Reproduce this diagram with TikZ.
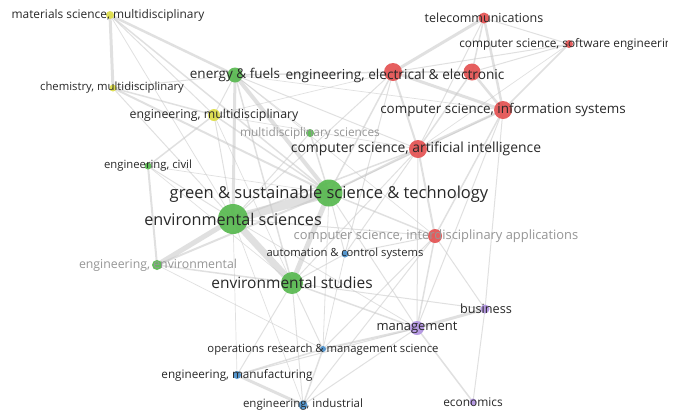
\documentclass[tikz,border=0pt]{standalone}
\usepackage{fontspec}
\setmainfont{Open Sans}
\newcommand\fsz[1]{\fontsize{#1}{#1}\selectfont}
\definecolor{cgreen}{RGB}{88,185,80}
\definecolor{cred}{RGB}{228,82,82}
\definecolor{cyellow}{RGB}{222,222,72}
\definecolor{cblue}{RGB}{75,145,205}
\definecolor{cpurple}{RGB}{178,148,226}
\definecolor{cedge}{RGB}{200,200,200}
\definecolor{ctext}{RGB}{40,40,40}
\definecolor{cfaint}{RGB}{150,150,150}
\tikzset{
  dot/.style={circle, inner sep=0pt, draw=none, fill opacity=0.92},
  lab/.style={inner sep=0pt, text=ctext, anchor=center},
  faintlab/.style={inner sep=0pt, text=cfaint, anchor=center},
  lnk/.style={draw=cedge, draw opacity=0.55, line cap=round},
}
\newcommand\E[3]{\draw[lnk, line width=#3pt] (#1) -- (#2);}
\begin{document}
\begin{tikzpicture}[x=1pt,y=-1pt]
\useasboundingbox (0,0) rectangle (683,416);
\fill[white] (0,0) rectangle (683,416);
\begin{scope}
\clip (0,0) rectangle (667,416);
% coordinates of nodes
\coordinate (mat) at (110,15);
\coordinate (chem) at (113,88);
\coordinate (engm) at (214,115);
\coordinate (ener) at (235,75);
\coordinate (msci) at (310,133);
\coordinate (civ) at (148,166);
\coordinate (grn) at (329,193);
\coordinate (envs) at (233,219);
\coordinate (enve) at (157,265);
\coordinate (envst) at (292,283);
\coordinate (auto) at (345,254);
\coordinate (inter) at (435,236);
\coordinate (ai) at (418,149);
\coordinate (info) at (503,110);
\coordinate (elec) at (393,72);
\coordinate (hw) at (472,72);
\coordinate (tel) at (484,18);
\coordinate (soft) at (569,44);
\coordinate (bus) at (485,309);
\coordinate (man) at (417,328);
\coordinate (ops) at (323,349);
\coordinate (manu) at (237,375);
\coordinate (ind) at (303,405);
\coordinate (eco) at (473,402);
% links
\E{mat}{chem}{3}
\E{mat}{ener}{2.5}
\E{mat}{engm}{1}
\E{mat}{grn}{1.5}
\E{mat}{envs}{0.8}
\E{chem}{engm}{1.5}
\E{chem}{ener}{1}
\E{chem}{grn}{2}
\E{chem}{envs}{1}
\E{engm}{ener}{1}
\E{engm}{grn}{1.5}
\E{engm}{envs}{1}
\E{engm}{civ}{1.5}
\E{engm}{ai}{0.7}
\E{engm}{envst}{0.7}
\E{engm}{elec}{0.7}
\E{ener}{grn}{4}
\E{ener}{envs}{3}
\E{ener}{elec}{1.5}
\E{ener}{envst}{1.5}
\E{ener}{ai}{1}
\E{ener}{info}{0.7}
\E{ener}{inter}{0.7}
\E{ener}{msci}{0.8}
\E{civ}{enve}{2}
\E{civ}{envs}{1}
\E{civ}{grn}{0.7}
\E{civ}{envst}{0.7}
\E{grn}{envs}{9}
\E{envs}{envst}{7}
\E{grn}{envst}{5}
\E{envs}{enve}{5}
\E{grn}{enve}{2}
\E{enve}{envst}{1.5}
\E{grn}{ai}{2}
\E{grn}{inter}{1.5}
\E{grn}{elec}{1.5}
\E{grn}{auto}{1}
\E{grn}{msci}{1.5}
\E{grn}{info}{1}
\E{grn}{man}{1}
\E{envs}{msci}{1}
\E{envs}{ai}{1.5}
\E{envs}{elec}{1}
\E{envs}{inter}{1}
\E{envs}{man}{0.8}
\E{ai}{info}{2.5}
\E{ai}{elec}{2}
\E{ai}{hw}{1.5}
\E{ai}{inter}{2}
\E{ai}{tel}{1}
\E{ai}{soft}{0.7}
\E{ai}{auto}{1}
\E{ai}{man}{1}
\E{ai}{envst}{1}
\E{elec}{tel}{3}
\E{elec}{info}{3}
\E{elec}{hw}{2.5}
\E{hw}{info}{2.5}
\E{tel}{info}{2.5}
\E{tel}{hw}{1.5}
\E{soft}{info}{1.5}
\E{soft}{elec}{1}
\E{soft}{tel}{1}
\E{soft}{hw}{1}
\E{info}{inter}{1.5}
\E{info}{man}{1}
\E{info}{bus}{1}
\E{inter}{man}{1.5}
\E{inter}{bus}{1}
\E{inter}{auto}{1}
\E{inter}{ops}{1}
\E{inter}{ind}{1}
\E{auto}{elec}{1}
\E{auto}{envst}{1}
\E{auto}{ops}{0.8}
\E{envst}{man}{1.5}
\E{envst}{bus}{1}
\E{envst}{ops}{1}
\E{envst}{manu}{1}
\E{envst}{ind}{1}
\E{man}{bus}{3}
\E{man}{eco}{1.5}
\E{bus}{eco}{1}
\E{man}{ops}{2}
\E{man}{manu}{1}
\E{man}{ind}{1}
\E{ops}{manu}{1.5}
\E{ops}{ind}{1.5}
\E{manu}{ind}{3}
\E{enve}{ops}{0.7}
\E{envs}{ind}{0.7}
\E{envs}{manu}{0.7}
\E{grn}{ops}{0.8}
% circles
\node[dot, fill=cyellow, minimum size=8pt] (n1) at (mat) {};
\node[dot, fill=cyellow, minimum size=7pt] (n2) at (chem) {};
\node[dot, fill=cyellow, minimum size=12pt] (n3) at (engm) {};
\node[dot, fill=cgreen, minimum size=15pt] (n4) at (ener) {};
\node[dot, fill=cgreen, minimum size=8pt] (n5) at (msci) {};
\node[dot, fill=cgreen, minimum size=7pt] (n6) at (civ) {};
\node[dot, fill=cgreen, minimum size=27pt] (n7) at (grn) {};
\node[dot, fill=cgreen, minimum size=30pt] (n8) at (envs) {};
\node[dot, fill=cgreen, minimum size=10pt] (n9) at (enve) {};
\node[dot, fill=cgreen, minimum size=22pt] (n10) at (envst) {};
\node[dot, fill=cblue, minimum size=7pt] (n11) at (auto) {};
\node[dot, fill=cred, minimum size=14pt] (n12) at (inter) {};
\node[dot, fill=cred, minimum size=18pt] (n13) at (ai) {};
\node[dot, fill=cred, minimum size=18pt] (n14) at (info) {};
\node[dot, fill=cred, minimum size=18pt] (n15) at (elec) {};
\node[dot, fill=cred, minimum size=17pt] (n16) at (hw) {};
\node[dot, fill=cred, minimum size=11pt] (n17) at (tel) {};
\node[dot, fill=cred, minimum size=8pt] (n18) at (soft) {};
\node[dot, fill=cpurple, minimum size=9pt] (n19) at (bus) {};
\node[dot, fill=cpurple, minimum size=14pt] (n20) at (man) {};
\node[dot, fill=cblue, minimum size=6pt] (n21) at (ops) {};
\node[dot, fill=cblue, minimum size=8pt] (n22) at (manu) {};
\node[dot, fill=cblue, minimum size=9pt] (n23) at (ind) {};
\node[dot, fill=cpurple, minimum size=7pt] (n24) at (eco) {};
% labels
\node[lab, font=\fsz{11.9}] (l1) at (108,15) {materials science, multidisciplinary};
\node[lab, font=\fsz{11.3}] (l2) at (112,88) {chemistry, multidisciplinary};
\node[lab, font=\fsz{12.3}] (l3) at (214,115) {engineering, multidisciplinary};
\node[lab, font=\fsz{13.5}] (l4) at (235,75) {energy \& fuels};
\node[faintlab, font=\fsz{11.8}] (l5) at (310,133) {multidisciplinary sciences};
\node[lab, font=\fsz{11.3}] (l6) at (148,166) {engineering, civil};
\node[lab, font=\fsz{16.5}] (l7) at (329,194) {green \& sustainable science \& technology};
\node[lab, font=\fsz{16.2}] (l8) at (233,219) {environmental sciences};
\node[faintlab, font=\fsz{12.3}] (l9) at (158,265) {engineering, environmental};
\node[lab, font=\fsz{15.5}] (l10) at (292,283) {environmental studies};
\node[lab, font=\fsz{11.2}] (l11) at (345,254) {automation \& control systems};
\node[faintlab, font=\fsz{12.9}] (l12) at (436,236) {computer science, interdisciplinary applications};
\node[lab, font=\fsz{13.9}] (l13) at (416,149) {computer science, artificial intelligence};
\node[lab, font=\fsz{13.4}] (l14) at (503,110) {computer science, information systems};
\node[lab, font=\fsz{13.7}] (l15) at (395,76) {engineering, electrical \& electronic};
\node[lab, font=\fsz{12.5}] (l17) at (484,18) {telecommunications};
\node[lab, font=\fsz{11.8}] (l18) at (569,44) {computer science, software engineering};
\node[lab, font=\fsz{12.7}] (l19) at (486,309) {business};
\node[lab, font=\fsz{13}] (l20) at (417,328) {management};
\node[lab, font=\fsz{11.3}] (l21) at (323,350) {operations research \& management science};
\node[lab, font=\fsz{11.7}] (l22) at (237,375) {engineering, manufacturing};
\node[lab, font=\fsz{11.5}] (l23) at (303,405) {engineering, industrial};
\node[lab, font=\fsz{11.9}] (l24) at (473,402) {economics};
\end{scope}
\end{tikzpicture}
\end{document}
